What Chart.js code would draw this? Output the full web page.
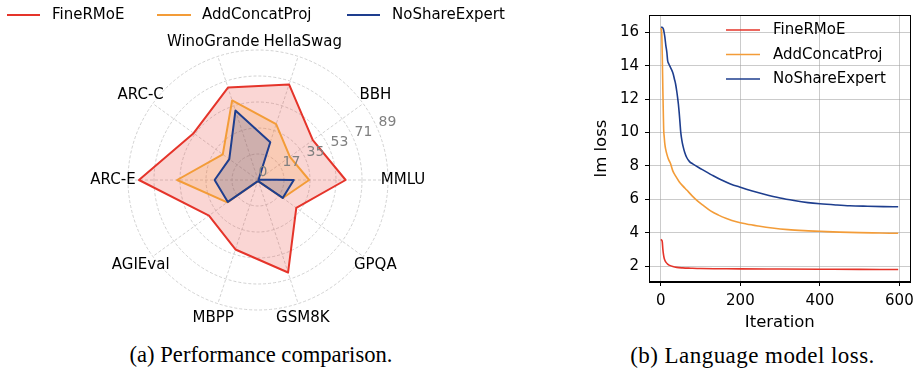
<!DOCTYPE html>
<html><head><meta charset="utf-8">
<script src="https://cdn.jsdelivr.net/npm/chart.js@4.4.1/dist/chart.umd.min.js"></script>
<style>
html,body{margin:0;padding:0;background:#fff;}
#wrap{position:relative;width:920px;height:369px;overflow:hidden;background:#fff;}
#radarBox{position:absolute;left:0;top:0;width:560px;height:340px;}
#lossBox{position:absolute;left:580px;top:0;width:340px;height:340px;}
.cap{position:absolute;font-family:"Liberation Serif","Times New Roman",serif;color:#000;white-space:nowrap;transform:translateX(-50%);}
</style></head><body>
<div id="wrap">
<div id="radarBox"><canvas id="radar" width="560" height="340" style="width:560px;height:340px"></canvas></div>
<div id="lossBox"><canvas id="loss" width="340" height="340" style="width:340px;height:340px"></canvas></div>
<div class="cap" style="left:261px;top:344.4px;font-size:22.6px;line-height:22.6px">(a) Performance comparison.</div>
<div class="cap" style="left:752.5px;top:344.2px;font-size:23px;line-height:23px;letter-spacing:0.45px">(b) Language model loss.</div>
</div>
<script>
// ---------- data ----------
const seriesNames = ['FineRMoE', 'AddConcatProj', 'NoShareExpert'];
const seriesColors = ['#E5342A', '#F39C38', '#1E3E8E'];

// radar categories, clockwise starting at the right (3 o'clock)
const radarCategories = ['MMLU', 'GPQA', 'GSM8K', 'MBPP', 'AGIEval', 'ARC-E', 'ARC-C', 'WinoGrande', 'HellaSwag', 'BBH'];
const radarFineRMoE      = [60.0, 32.4, 66.6, 50.0, 41.5, 81.5, 54.5, 66.5, 68.8, 46.4];
const radarAddConcatProj = [35.0, 21.0, 1.0, 1.0, 26.0, 55.4, 29.8, 57.3, 40.2, 27.0];
const radarNoShareExpert = [24.5, 20.9, 1.0, 1.0, 25.5, 29.7, 24.3, 50.0, 27.2, 0.5];
const radarTickValues = [0, 17.8, 35.6, 53.4, 71.2, 89];
const radarTickLabels = ['0', '17', '35', '53', '71', '89'];

// loss curves
const iterFineRMoE = [0, 2, 3.5, 5, 6.5, 8, 10, 13, 17, 22, 30, 40, 55, 75, 100, 150, 200, 300, 400, 500, 597];
const lossFineRMoE = [3.6, 3.55, 3.45, 3.0, 2.7, 2.5, 2.35, 2.22, 2.12, 2.04, 1.97, 1.92, 1.89, 1.87, 1.85, 1.84, 1.83, 1.82, 1.81, 1.8, 1.79];
const iterAddConcatProj = [0, 2, 3.5, 5, 6, 7, 8.5, 10, 12, 15, 19, 24, 30, 38, 46, 55, 65, 78, 92, 108, 125, 145, 165, 190, 215, 245, 280, 320, 360, 400, 450, 500, 550, 597];
const lossAddConcatProj = [16.25, 16.0, 14.6, 12.5, 11.3, 10.2, 9.7, 9.3, 9.0, 8.7, 8.4, 8.15, 7.7, 7.35, 7.05, 6.8, 6.55, 6.22, 5.9, 5.6, 5.3, 5.05, 4.85, 4.65, 4.52, 4.4, 4.28, 4.18, 4.12, 4.08, 4.03, 4.0, 3.98, 3.96];
const iterNoShareExpert = [0, 3, 6, 8, 10, 12.5, 15, 17, 20, 23, 27, 31, 34, 37, 40, 42, 44, 46, 48, 50, 53, 56, 60, 65, 72, 80, 95, 110, 130, 150, 175, 200, 230, 260, 300, 335, 370, 400, 440, 475, 520, 560, 597];
const lossNoShareExpert = [16.3, 16.3, 16.2, 16.0, 15.7, 15.2, 14.8, 14.3, 14.1, 13.95, 13.75, 13.5, 13.2, 12.9, 12.45, 12.1, 11.7, 11.2, 10.6, 10.0, 9.5, 9.15, 8.8, 8.5, 8.25, 8.12, 7.9, 7.7, 7.43, 7.18, 6.92, 6.72, 6.5, 6.3, 6.07, 5.92, 5.8, 5.73, 5.66, 5.61, 5.58, 5.56, 5.55];
const lossXTicks = [0, 200, 400, 600];
const lossYTicks = [2, 4, 6, 8, 10, 12, 14, 16];

// ---------- helpers ----------
Chart.defaults.font.family = "'DejaVu Sans', sans-serif";
Chart.defaults.color = '#000';
Chart.defaults.animation = false;

function rgba(hex, a) {
  const n = parseInt(hex.slice(1), 16);
  return 'rgba(' + ((n >> 16) & 255) + ',' + ((n >> 8) & 255) + ',' + (n & 255) + ',' + a + ')';
}
function drawLegendRow(ctx, x0, x1, tx, y, color, label, lw) {
  ctx.save();
  ctx.strokeStyle = color; ctx.lineWidth = lw; ctx.lineCap = 'butt';
  ctx.beginPath(); ctx.moveTo(x0, y); ctx.lineTo(x1, y); ctx.stroke();
  ctx.fillStyle = '#000'; ctx.font = '15px "DejaVu Sans"';
  ctx.textAlign = 'left'; ctx.textBaseline = 'middle';
  ctx.fillText(label, tx, y + 0.5);
  ctx.restore();
}

// ---------- radar ----------
const radarValues = [radarFineRMoE, radarAddConcatProj, radarNoShareExpert];
const radarText = {
  id: 'radarText',
  afterDatasetsDraw(chart) {
    const ctx = chart.ctx, r = chart.scales.r;
    ctx.save();
    ctx.font = '14px "DejaVu Sans"';
    ctx.fillStyle = '#808080';
    ctx.textAlign = 'left'; ctx.textBaseline = 'bottom';
    const ang = 22.5 * Math.PI / 180;
    radarTickValues.forEach((v, i) => {
      const d = r.getDistanceFromCenterForValue(v);
      ctx.fillText(radarTickLabels[i], r.xCenter + d * Math.cos(ang) + 0.5, r.yCenter - d * Math.sin(ang) - 1);
    });
    ctx.fillStyle = '#000';
    ctx.font = '15px "DejaVu Sans"';
    ctx.textAlign = 'center'; ctx.textBaseline = 'middle';
    radarCategories.forEach((c, i) => {
      const p = r.getPointPosition(i, r.drawingArea + 15);
      ctx.fillText(c, p.x, p.y);
    });
    ctx.restore();
  },
  afterDraw(chart) {
    const ctx = chart.ctx;
    const rows = [[7, 40, 52], [157, 191, 202], [347, 380, 392]];
    rows.forEach((rw, i) => drawLegendRow(ctx, rw[0], rw[1], rw[2], 15, seriesColors[i], seriesNames[i], 2));
  }
};

new Chart(document.getElementById('radar'), {
  type: 'radar',
  data: {
    labels: radarCategories,
    datasets: seriesNames.map((n, i) => ({
      label: n,
      data: radarValues[i],
      borderColor: seriesColors[i],
      backgroundColor: rgba(seriesColors[i], 0.2),
      borderWidth: 2,
      fill: true,
      pointRadius: 0,
      pointHoverRadius: 0,
      tension: 0,
      borderJoinStyle: 'round',
      order: 3 - i
    }))
  },
  options: {
    responsive: false,
    devicePixelRatio: 1,
    animation: false,
    layout: { padding: { left: 128, top: 50, right: 172, bottom: 30 } },
    plugins: { legend: { display: false }, tooltip: { enabled: false } },
    scales: {
      r: {
        min: 0, max: 89,
        startAngle: 90,
        afterBuildTicks: (s) => { s.ticks = radarTickValues.map(v => ({ value: v })); },
        ticks: { display: false },
        pointLabels: { display: false },
        grid: { circular: true, color: '#c6c6c6', lineWidth: 0.8 },
        border: { dash: [3, 2] },
        angleLines: { color: '#c6c6c6', lineWidth: 0.8, borderDash: [3, 2] }
      }
    }
  },
  plugins: [radarText]
});

// ---------- loss ----------
const lossX = [iterFineRMoE, iterAddConcatProj, iterNoShareExpert];
const lossY = [lossFineRMoE, lossAddConcatProj, lossNoShareExpert];
const lossDeco = {
  id: 'lossDeco',
  afterDraw(chart) {
    const ctx = chart.ctx, a = chart.chartArea;
    ctx.save();
    ctx.strokeStyle = '#000'; ctx.lineWidth = 1;
    ctx.strokeRect(Math.round(a.left) + 0.5, Math.round(a.top) + 0.5, Math.round(a.right - a.left) - 1, Math.round(a.bottom - a.top) - 1);
    ctx.restore();
    const ys = [30, 54.5, 79];
    seriesNames.forEach((n, i) => drawLegendRow(ctx, 146, 180, 193, ys[i], seriesColors[i], n, 1.6));
  }
};

new Chart(document.getElementById('loss'), {
  type: 'line',
  data: {
    datasets: seriesNames.map((n, i) => ({
      label: n,
      data: lossX[i].map((x, j) => ({ x: x, y: lossY[i][j] })),
      borderColor: seriesColors[i],
      backgroundColor: seriesColors[i],
      borderWidth: 1.6,
      pointRadius: 0,
      pointHoverRadius: 0,
      fill: false,
      cubicInterpolationMode: 'monotone'
    }))
  },
  options: {
    responsive: false,
    devicePixelRatio: 1,
    animation: false,
    layout: { padding: { left: 0, top: 8, right: 7, bottom: 0 } },
    plugins: { legend: { display: false }, tooltip: { enabled: false } },
    scales: {
      x: {
        type: 'linear', min: -29.9, max: 628.3,
        afterBuildTicks: (s) => { s.ticks = lossXTicks.map(v => ({ value: v })); },
        afterFit: (s) => { s.height = 58; },
        ticks: { font: { size: 15 }, color: '#000', padding: 6, maxRotation: 0, autoSkip: false },
        grid: { color: 'rgba(160,160,160,0.55)', lineWidth: 1, tickLength: 4, tickColor: '#000', tickWidth: 1 },
        border: { color: '#000', width: 1 },
        title: { display: true, text: 'Iteration', font: { size: 16.5 }, color: '#000', padding: { top: 0, bottom: 7 } }
      },
      y: {
        type: 'linear', min: 1.046, max: 17.03,
        afterBuildTicks: (s) => { s.ticks = lossYTicks.map(v => ({ value: v })); },
        afterFit: (s) => { s.width = 69; },
        ticks: { font: { size: 15 }, color: '#000', padding: 6, autoSkip: false },
        grid: { color: 'rgba(160,160,160,0.55)', lineWidth: 1, tickLength: 4, tickColor: '#000', tickWidth: 1 },
        border: { color: '#000', width: 1 },
        title: { display: true, text: 'lm loss', font: { size: 16.5 }, color: '#000', padding: { top: 12, bottom: 0 } }
      }
    }
  },
  plugins: [lossDeco]
});
</script>
</body></html>
